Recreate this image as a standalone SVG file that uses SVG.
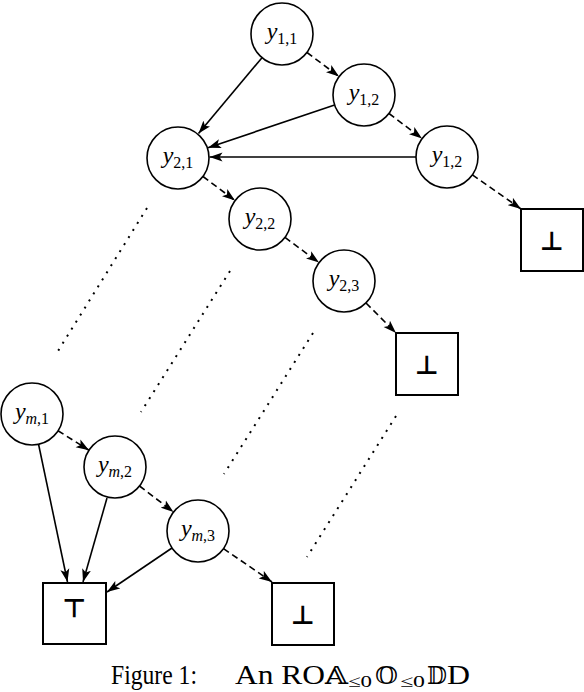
<svg xmlns="http://www.w3.org/2000/svg" width="584" height="692" viewBox="0 0 584 692">
<style>
.node circle{fill:#fff;stroke:#000;stroke-width:1.6}
.box rect{fill:#fff;stroke:#000;stroke-width:2}
.lbl{font-family:"Liberation Serif","Times New Roman",serif;font-size:24px;fill:#000}
.lbl .v{font-style:italic}
.lbl .s{font-size:16px}
.lbl .i{font-style:italic}
.sym{font-family:"DejaVu Sans",sans-serif;font-size:26px;font-weight:bold;fill:#000}
.e{fill:none;stroke:#000;stroke-width:1.6}
.d{stroke-dasharray:6.5 4}
.dot{fill:none;stroke:#000;stroke-width:2;stroke-dasharray:2 6.3}
.cap{font-family:"Liberation Serif","Times New Roman",serif;font-size:27px;fill:#000}
.ds{font-family:"DejaVu Serif","DejaVu Sans",serif;font-size:25px}
.sub{font-size:17px}
</style>
<defs>
<marker id="ah" markerUnits="userSpaceOnUse" markerWidth="14" markerHeight="10" refX="13" refY="5" orient="auto" viewBox="0 0 14 10">
<path d="M0,0.5 L13,5 L0,9.5 L3,5 Z" fill="#000"/>
</marker>
</defs>
<g id="connectors">
<line class="e" x1="262" y1="57.7" x2="198.5" y2="133.5" marker-end="url(#ah)"/>
<line class="e" x1="334.6" y1="104.9" x2="208" y2="147.8" marker-end="url(#ah)"/>
<line class="e" x1="416" y1="157" x2="209.5" y2="157" marker-end="url(#ah)"/>
<line class="e" x1="38.5" y1="444" x2="67.5" y2="582" marker-end="url(#ah)"/>
<line class="e" x1="107" y1="498" x2="83" y2="582" marker-end="url(#ah)"/>
<line class="e" x1="172" y1="548" x2="107" y2="592" marker-end="url(#ah)"/>
<line class="e d" x1="307" y1="52.5" x2="339" y2="76.5" marker-end="url(#ah)"/>
<line class="e d" x1="389" y1="113.5" x2="422" y2="138.5" marker-end="url(#ah)"/>
<line class="e d" x1="472.4" y1="174.8" x2="521" y2="209" marker-end="url(#ah)"/>
<line class="e d" x1="203" y1="176.5" x2="235" y2="200.5" marker-end="url(#ah)"/>
<line class="e d" x1="285" y1="237.4" x2="319" y2="262.6" marker-end="url(#ah)"/>
<line class="e d" x1="366" y1="303" x2="396" y2="333" marker-end="url(#ah)"/>
<line class="e d" x1="58" y1="430.7" x2="89" y2="450.3" marker-end="url(#ah)"/>
<line class="e d" x1="139.5" y1="486" x2="173.5" y2="512" marker-end="url(#ah)"/>
<line class="e d" x1="223.5" y1="548.6" x2="272" y2="582" marker-end="url(#ah)"/>
<line class="dot" x1="147" y1="208" x2="58" y2="351"/>
<line class="dot" x1="230" y1="271" x2="141" y2="412"/>
<line class="dot" x1="313" y1="333" x2="224" y2="474"/>
<line class="dot" x1="396" y1="416" x2="307" y2="557"/>
</g>
<g id="y11" class="node"><circle cx="282" cy="34" r="31"/><text class="lbl" x="282" y="39" text-anchor="middle"><tspan class="v">y</tspan><tspan class="s" dy="5">1,1</tspan></text></g>
<g id="y12" class="node"><circle cx="364" cy="95" r="31"/><text class="lbl" x="364" y="100" text-anchor="middle"><tspan class="v">y</tspan><tspan class="s" dy="5">1,2</tspan></text></g>
<g id="y12b" class="node"><circle cx="447" cy="157" r="31"/><text class="lbl" x="447" y="162" text-anchor="middle"><tspan class="v">y</tspan><tspan class="s" dy="5">1,2</tspan></text></g>
<g id="y21" class="node"><circle cx="178" cy="158" r="31"/><text class="lbl" x="178" y="163" text-anchor="middle"><tspan class="v">y</tspan><tspan class="s" dy="5">2,1</tspan></text></g>
<g id="y22" class="node"><circle cx="260" cy="219" r="31"/><text class="lbl" x="260" y="224" text-anchor="middle"><tspan class="v">y</tspan><tspan class="s" dy="5">2,2</tspan></text></g>
<g id="y23" class="node"><circle cx="344" cy="281" r="31"/><text class="lbl" x="344" y="286" text-anchor="middle"><tspan class="v">y</tspan><tspan class="s" dy="5">2,3</tspan></text></g>
<g id="ym1" class="node"><circle cx="32" cy="414" r="31"/><text class="lbl" x="32" y="419" text-anchor="middle"><tspan class="v">y</tspan><tspan class="s i" dy="5">m</tspan><tspan class="s">,1</tspan></text></g>
<g id="ym2" class="node"><circle cx="115" cy="467" r="31"/><text class="lbl" x="115" y="472" text-anchor="middle"><tspan class="v">y</tspan><tspan class="s i" dy="5">m</tspan><tspan class="s">,2</tspan></text></g>
<g id="ym3" class="node"><circle cx="198" cy="531" r="31"/><text class="lbl" x="198" y="536" text-anchor="middle"><tspan class="v">y</tspan><tspan class="s i" dy="5">m</tspan><tspan class="s">,3</tspan></text></g>
<g id="bot1" class="box"><rect x="521" y="209" width="62" height="62"/><text class="sym" x="552" y="250" text-anchor="middle">⊥</text></g>
<g id="bot2" class="box"><rect x="396" y="333" width="62" height="62"/><text class="sym" x="427" y="374" text-anchor="middle">⊥</text></g>
<g id="bot3" class="box"><rect x="272" y="583" width="62" height="62"/><text class="sym" x="303" y="624" text-anchor="middle">⊥</text></g>
<g id="top" class="box"><rect x="43" y="583" width="63" height="61"/><text class="sym" x="74.5" y="617" text-anchor="middle">⊤</text></g>
<text class="cap" y="684"><tspan x="111" textLength="86" lengthAdjust="spacingAndGlyphs">Figure 1:</tspan><tspan x="235" textLength="90" lengthAdjust="spacingAndGlyphs">An RO</tspan><tspan class="ds" x="325" textLength="23" lengthAdjust="spacingAndGlyphs">𝔸</tspan><tspan class="sub" x="348" dy="3" textLength="24" lengthAdjust="spacingAndGlyphs">≤0</tspan><tspan class="ds" x="375" dy="-3" textLength="23" lengthAdjust="spacingAndGlyphs">𝕆</tspan><tspan class="sub" x="400" dy="3" textLength="25" lengthAdjust="spacingAndGlyphs">≤0</tspan><tspan class="ds" x="427" dy="-3" textLength="20" lengthAdjust="spacingAndGlyphs">𝔻</tspan><tspan x="447" textLength="23" lengthAdjust="spacingAndGlyphs">D</tspan></text>
</svg>
